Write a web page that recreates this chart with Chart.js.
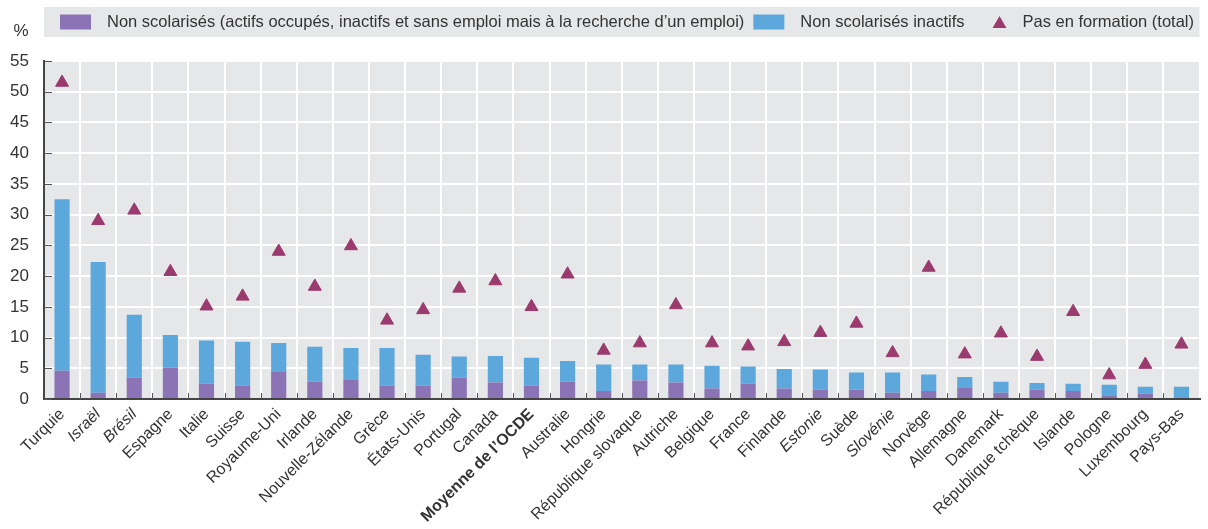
<!DOCTYPE html>
<html>
<head>
<meta charset="utf-8">
<script src="https://cdn.jsdelivr.net/npm/chart.js@4.4.1/dist/chart.umd.min.js"></script>
<style>
html,body{margin:0;padding:0;background:#ffffff;}
#wrap{width:1208px;height:529px;position:relative;}
</style>
</head>
<body>
<div id="wrap"><canvas id="c" width="1208" height="529"></canvas></div>
<script>
// ---------------- data ----------------
const categories = ['Turquie','Israël','Brésil','Espagne','Italie','Suisse','Royaume-Uni','Irlande','Nouvelle-Zélande','Grèce','États-Unis','Portugal','Canada','Moyenne de l’OCDE','Australie','Hongrie','République slovaque','Autriche','Belgique','France','Finlande','Estonie','Suède','Slovénie','Norvège','Allemagne','Danemark','République tchèque','Islande','Pologne','Luxembourg','Pays-Bas'];
const italicCategories = ['Israël','Brésil','Estonie','Slovénie'];
const boldCategories = ['Moyenne de l’OCDE'];

// purple segment (bottom of stack)
const nonScolarisesTous = [4.6,1.0,3.5,5.1,2.5,2.2,4.4,2.8,3.1,2.2,2.2,3.5,2.7,2.2,2.8,1.3,3.0,2.7,1.7,2.5,1.7,1.5,1.5,1.0,1.3,1.8,1.0,1.5,1.3,0.5,0.9,0.0];
// blue segment (stacked on top of purple)
const nonScolarisesInactifs = [27.9,21.3,10.2,5.3,7.0,7.1,4.7,5.7,5.2,6.1,5.0,3.4,4.3,4.5,3.4,4.3,2.6,2.9,3.7,2.8,3.2,3.3,2.8,3.3,2.7,1.8,1.8,1.1,1.2,1.8,1.1,2.0];
// triangles
const pasEnFormation = [51.5,29.0,30.7,20.7,15.1,16.7,24.0,18.3,24.9,12.8,14.5,18.0,19.2,15.0,20.3,7.9,9.1,15.3,9.1,8.6,9.3,10.8,12.3,7.5,21.4,7.3,10.7,6.9,14.2,3.9,5.6,8.9];

const yTickValues = [0,5,10,15,20,25,30,35,40,45,50,55];
const yUnit = '%';
const seriesLabels = ['Non scolarisés (actifs occupés, inactifs et sans emploi mais à la recherche d’un emploi)','Non scolarisés inactifs','Pas en formation (total)'];

// ---------------- styles ----------------
const FONT = '"Liberation Sans", Arial, sans-serif';
const TEXT = '#333333';
const PURPLE = '#8b74b5';
const BLUE = '#5ca8dc';
const TRI = '#9b3a6e';
const PANEL = '#e6e7e8';

function triangle(ctx, px, py, r) {
  ctx.beginPath();
  ctx.moveTo(px, py - r);
  ctx.lineTo(px + r * Math.sin(2*Math.PI/3), py - r * Math.cos(2*Math.PI/3));
  ctx.lineTo(px + r * Math.sin(4*Math.PI/3), py - r * Math.cos(4*Math.PI/3));
  ctx.closePath();
  ctx.fill();
}

const panelPlugin = {
  id: 'panel',
  beforeDraw(chart) {
    const {ctx, chartArea} = chart;
    ctx.save();
    ctx.fillStyle = PANEL;
    ctx.fillRect(chartArea.left, chartArea.top, chartArea.right - chartArea.left, chartArea.bottom - chartArea.top);
    ctx.fillRect(chartArea.left, 7, chartArea.right - chartArea.left, 30);
    ctx.restore();
  },
  afterDatasetsDraw(chart) {
    const {ctx, chartArea, scales} = chart;
    const x = scales.x, y = scales.y;
    ctx.save();
    ctx.strokeStyle = '#555555';
    ctx.lineWidth = 1;
    y.ticks.forEach((t) => {
      const py = Math.round(y.getPixelForValue(t.value)) + 0.5;
      ctx.beginPath(); ctx.moveTo(chartArea.left, py); ctx.lineTo(chartArea.left + 8, py); ctx.stroke();
    });
    for (let i = 1; i < categories.length; i++) {
      const px = Math.round((x.getPixelForValue(i - 1) + x.getPixelForValue(i)) / 2) + 0.5;
      ctx.beginPath(); ctx.moveTo(px, chartArea.bottom); ctx.lineTo(px, chartArea.bottom - 6); ctx.stroke();
    }
    ctx.restore();
  },
  afterDraw(chart) {
    const {ctx, chartArea} = chart;
    ctx.save();
    ctx.fillStyle = TEXT;
    ctx.textBaseline = 'middle';
    ctx.textAlign = 'center';
    ctx.font = '17px ' + FONT;
    ctx.fillText(yUnit, 21, 31);
    ctx.font = '16.5px ' + FONT;
    ctx.textAlign = 'left';
    const cy = 22;
    let cx = chartArea.left + 16;
    const colors = [PURPLE, BLUE, TRI];
    seriesLabels.forEach((lab, i) => {
      if (i < 2) {
        ctx.fillStyle = colors[i];
        ctx.fillRect(cx, cy - 7.5, 31, 15);
        cx += 31 + 16;
      } else {
        cx += 19;
        ctx.fillStyle = TRI;
        triangle(ctx, cx + 7, cy + 2, 8);
        cx += 14 + 16;
      }
      ctx.fillStyle = TEXT;
      ctx.fillText(lab, cx, cy);
      cx += ctx.measureText(lab).width + 9;
    });
    ctx.restore();
  }
};

new Chart(document.getElementById('c'), {
  data: {
    labels: categories,
    datasets: [
      {type: 'bar', label: seriesLabels[0], data: nonScolarisesTous, backgroundColor: PURPLE, stack: 'bars', order: 2},
      {type: 'bar', label: seriesLabels[1], data: nonScolarisesInactifs, backgroundColor: BLUE, stack: 'bars', order: 2},
      {type: 'line', label: seriesLabels[2], data: pasEnFormation, showLine: false, stack: 'tri', order: 1,
       pointStyle: 'triangle', pointRadius: 7.5, pointHoverRadius: 7.5, pointBackgroundColor: TRI, pointBorderColor: TRI, pointBorderWidth: 1}
    ]
  },
  options: {
    responsive: false,
    animation: false,
    devicePixelRatio: 1,
    layout: {padding: {top: 61, right: 3, left: 0, bottom: 0}},
    datasets: {bar: {categoryPercentage: 1, barPercentage: 0.42}},
    plugins: {legend: {display: false}, tooltip: {enabled: false}},
    scales: {
      x: {
        stacked: true,
        grid: {color: '#ffffff', lineWidth: 2, drawTicks: false, offset: true},
        border: {display: true, color: '#444444', width: 2},
        ticks: {
          autoSkip: false, maxRotation: 45, minRotation: 45, padding: 6, color: TEXT,
          font: (c) => {
            const lab = categories[c.index];
            return {family: FONT, size: 16,
              style: italicCategories.includes(lab) ? 'italic' : 'normal',
              weight: boldCategories.includes(lab) ? 'bold' : 'normal'};
          }
        },
        afterFit: (s) => { s.height = 130; }
      },
      y: {
        stacked: true,
        min: 0, max: 55,
        afterBuildTicks: (s) => { s.ticks = yTickValues.map(v => ({value: v})); },
        grid: {color: '#ffffff', lineWidth: 2, drawTicks: false},
        border: {display: true, color: '#444444', width: 2},
        ticks: {color: TEXT, padding: 15, font: {family: FONT, size: 17}},
        afterFit: (s) => { s.width = 44; }
      }
    }
  },
  plugins: [panelPlugin]
});
</script>
</body>
</html>
